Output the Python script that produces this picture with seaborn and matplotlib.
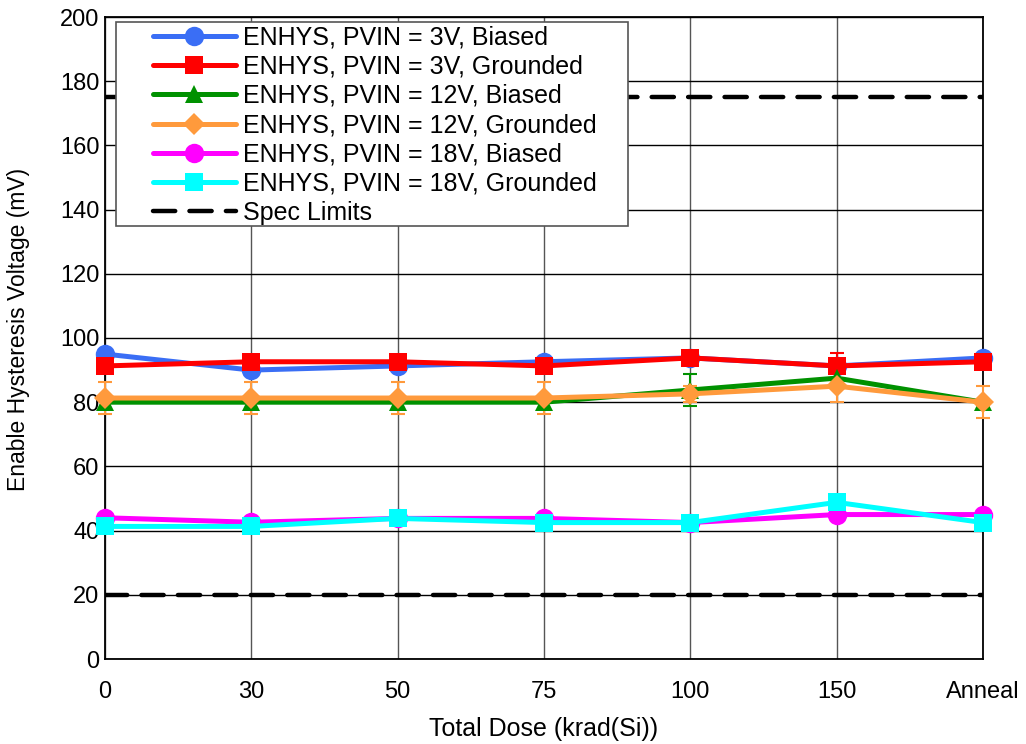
import matplotlib
matplotlib.use("Agg")
import matplotlib.pyplot as plt
from matplotlib.patches import Rectangle
import seaborn as sns
import pandas as pd
import numpy as np

categories = ["0", "30", "50", "75", "100", "150", "Anneal"]
series_names = [
    "ENHYS, PVIN = 3V, Biased",
    "ENHYS, PVIN = 3V, Grounded",
    "ENHYS, PVIN = 12V, Biased",
    "ENHYS, PVIN = 12V, Grounded",
    "ENHYS, PVIN = 18V, Biased",
    "ENHYS, PVIN = 18V, Grounded",
]
v3_biased = [95.0, 90.0, 91.3, 92.6, 93.8, 91.3, 93.8]
v3_grounded = [91.3, 92.6, 92.6, 91.3, 93.8, 91.3, 92.6]
v12_biased = [80.0, 80.0, 80.0, 80.0, 83.8, 87.5, 80.0]
v12_grounded = [81.3, 81.3, 81.3, 81.3, 82.6, 85.0, 80.0]
v18_biased = [44.0, 42.6, 43.8, 43.8, 42.5, 45.0, 45.0]
v18_grounded = [41.3, 41.3, 43.8, 42.5, 42.5, 48.8, 42.5]
# error bar half-widths (0 = none)
err_3_grounded = [0, 0, 0, 0, 0, 4.0, 0]
err_12_biased = [0, 0, 0, 0, 5.0, 0, 0]
err_12_grounded = [5.0, 5.0, 5.0, 5.0, 2.6, 5.0, 5.0]
spec_upper = 175
spec_lower = 20
spec_label = "Spec Limits"

values = [v3_biased, v3_grounded, v12_biased, v12_grounded, v18_biased, v18_grounded]
errors = [None, err_3_grounded, err_12_biased, err_12_grounded, None, None]
colors = ["#3A6EF5", "#FF0000", "#009100", "#FF9A3C", "#FF00FF", "#00FFFF"]
markers = ["o", "s", "^", "D", "o", "s"]
msizes = [14, 12.5, 12.5, 11.5, 14, 12.5]

sns.set_style("white")
plt.rcParams["font.family"] = ["Liberation Sans", "DejaVu Sans"]
plt.rcParams["text.color"] = "black"
plt.rcParams["axes.labelcolor"] = "black"
plt.rcParams["xtick.color"] = "black"
plt.rcParams["ytick.color"] = "black"

W, H = 1026, 744
fig = plt.figure(figsize=(W / 100, H / 100), dpi=100)
ax = fig.add_axes([105 / W, 1 - 659 / H, (983 - 105) / W, (659 - 17) / H])

xpos = np.arange(len(categories))
for name, vals, err, c, m, ms in zip(series_names, values, errors, colors, markers, msizes):
    df = pd.DataFrame({"x": xpos, "y": vals})
    if err is not None:
        e = np.array(err)
        mask = e > 0
        ax.errorbar(xpos[mask], np.array(vals)[mask], yerr=e[mask], fmt="none",
                    ecolor=c, elinewidth=1.5, capsize=5, capthick=1.5, zorder=3,
                    clip_on=False)
    sns.lineplot(data=df, x="x", y="y", ax=ax, color=c, marker=m, markersize=ms,
                 markeredgewidth=0, linewidth=3.6, label=name, zorder=4, clip_on=False)

spec_df = pd.DataFrame({"x": [xpos[0], xpos[-1]], "y": [spec_upper, spec_upper]})
sns.lineplot(data=spec_df, x="x", y="y", ax=ax, color="black", linewidth=3.2,
             label=spec_label, zorder=3)
spec_df2 = pd.DataFrame({"x": [xpos[0], xpos[-1]], "y": [spec_lower, spec_lower]})
sns.lineplot(data=spec_df2, x="x", y="y", ax=ax, color="black", linewidth=3.2, zorder=3)
for ln in ax.lines[-2:]:
    ln.set_linestyle((0, (5, 3.2)))
    ln.set_dash_capstyle("round")

ax.set_xlim(0, 6)
ax.set_ylim(0, 200)
ax.set_xticks(xpos)
ax.set_xticklabels(categories)
ax.set_yticks(np.arange(0, 201, 20))
ax.grid(True, axis="y", color="black", linewidth=1.0)
ax.grid(True, axis="x", color="#555555", linewidth=1.0)
ax.set_axisbelow(True)
for s in ax.spines.values():
    s.set_color("black")
    s.set_linewidth(1.3)
ax.tick_params(axis="y", labelsize=17, length=0, pad=4, labelcolor="black")
ax.tick_params(axis="x", labelsize=17, length=0, pad=16, labelcolor="black")
ax.set_xlabel("Total Dose (krad(Si))", fontsize=18, labelpad=10, color="black")
ax.set_ylabel("Enable Hysteresis Voltage (mV)", fontsize=16.5, color="black")
ax.yaxis.set_label_coords(-0.085, 0.514)

# legend frame box
frame = Rectangle((116 / W, 1 - 226 / H), (628 - 116) / W, (226 - 22) / H,
                  transform=fig.transFigure, facecolor="white", edgecolor="#555555",
                  linewidth=1.2, zorder=4.9, clip_on=False)
ax.add_patch(frame)

leg = ax.legend(loc="upper left", bbox_to_anchor=(148 / W, 1 - 20.5 / H),
                bbox_transform=fig.transFigure, fontsize=18,
                frameon=False, handlelength=3.3, handletextpad=0.3, borderpad=0.2,
                labelspacing=0.21, borderaxespad=0)
leg.set_zorder(5)
for t in leg.get_texts():
    t.set_color("black")

fig.savefig("out.png", dpi=100)
